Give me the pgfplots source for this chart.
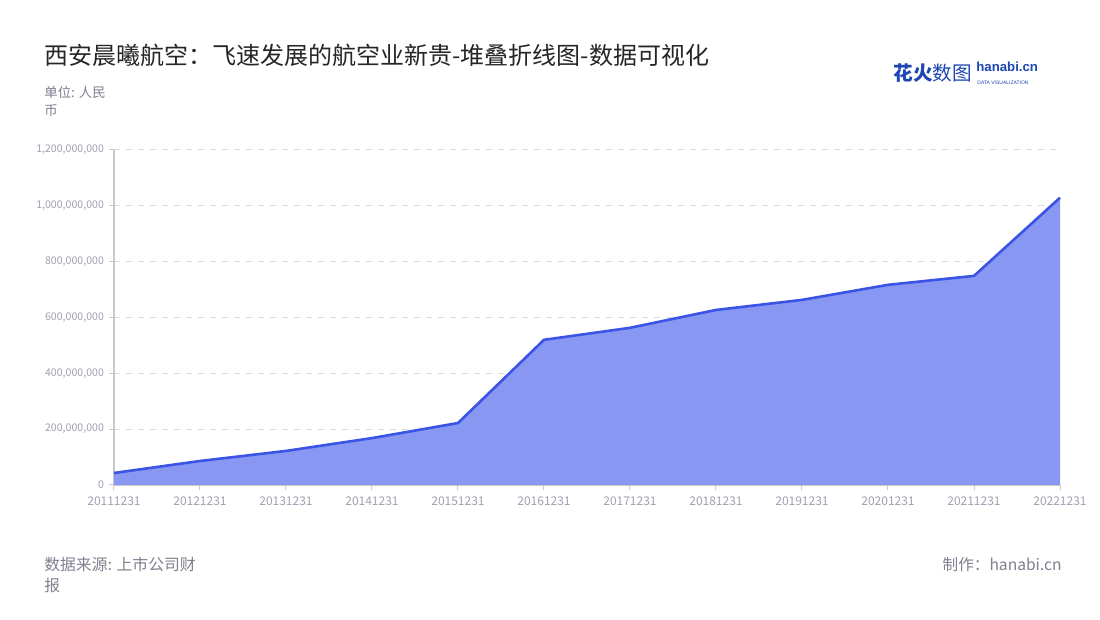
\documentclass[border=0pt]{standalone}
\usepackage{fontspec}
\setmainfont{Noto Sans CJK SC}
\newfontfamily\logofont{Liberation Sans}
\usepackage{pgfplots}
\pgfplotsset{compat=1.18}
\definecolor{fillc}{RGB}{136,152,242}
\definecolor{linec}{RGB}{58,84,230}
\definecolor{tickc}{RGB}{160,160,176}
\definecolor{labc}{RGB}{128,128,144}
\definecolor{gridc}{RGB}{220,220,220}
\definecolor{axc}{RGB}{200,200,200}
\definecolor{logoc}{RGB}{30,70,180}
\begin{document}
\begin{tikzpicture}
\fill[white] (0pt,0pt) rectangle (550pt,310pt);
\begin{axis}[
  at={(57pt,67.5pt)}, anchor=south west,
  scale only axis, width=473pt, height=167.5pt,
  xmin=0, xmax=11, ymin=0, ymax=1.2e9,
  scaled y ticks=false,
  xtick={0,...,11},
  xticklabels={20111231,20121231,20131231,20141231,20151231,20161231,20171231,20181231,20191231,20201231,20211231,20221231},
  ytick={0,200000000,400000000,600000000,800000000,1000000000,1200000000},
  yticklabels={0,{200,000,000},{400,000,000},{600,000,000},{800,000,000},{1,000,000,000},{1,200,000,000}},
  axis x line*=bottom, axis y line*=left,
  axis line style={axc, line width=0.6pt, -},
  tick style={axc, line width=0.5pt},
  tick align=outside, major tick length=2.5pt,
  ymajorgrids, grid style={gridc, dashed, line width=0.5pt},
  yticklabel style={font=\fontsize{5.3}{6}\selectfont, text=tickc, xshift=1pt},
  xticklabel style={font=\fontsize{6}{7}\selectfont, text=tickc, yshift=0pt},
  clip=false,
]
\addplot[draw=none, fill=fillc] coordinates {
(0,43000000) (1,86000000) (2,122000000) (3,168000000) (4,222000000) (5,520000000) (6,563000000) (7,627000000) (8,663000000) (9,717000000) (10,749000000) (11,1029000000)
} \closedcycle;
\addplot[linec, line width=1.3pt, mark=none] coordinates {
(0,43000000) (1,86000000) (2,122000000) (3,168000000) (4,222000000) (5,520000000) (6,563000000) (7,627000000) (8,663000000) (9,717000000) (10,749000000) (11,1029000000)
};
\end{axis}
\node[anchor=west, inner sep=0, font=\fontsize{12}{14}\selectfont, text=black!85] at (22pt,282.5pt) {西安晨曦航空：飞速发展的航空业新贵-堆叠折线图-数据可视化};
\node[anchor=north west, inner sep=0, align=left, font=\fontsize{6.7}{9}\selectfont, text=labc] at (22pt,267pt) {单位: 人民\\币};
\node[anchor=north west, inner sep=0, align=left, font=\fontsize{7.9}{10.5}\selectfont, text=labc] at (22pt,31.5pt) {数据来源: 上市公司财\\报};
\node[anchor=north east, inner sep=0, font=\fontsize{7.8}{10}\selectfont, text=labc] at (531pt,31.5pt) {制作：hanabi.cn};
\node[anchor=west, inner sep=0, font=\bfseries\fontsize{9.8}{10}\selectfont, text=logoc] at (446.5pt,273.5pt) {花火\mdseries 数图};
\node[anchor=base west, inner sep=0, font=\logofont\bfseries\fontsize{6.6}{7}\selectfont, text=logoc] at (488pt,274.2pt) {hanabi.cn};
\node[anchor=base west, inner sep=0, font=\logofont\fontsize{2.5}{3}\selectfont, text=logoc] at (488.5pt,267.6pt) {DATA VISUALIZATION};
\end{tikzpicture}
\end{document}
